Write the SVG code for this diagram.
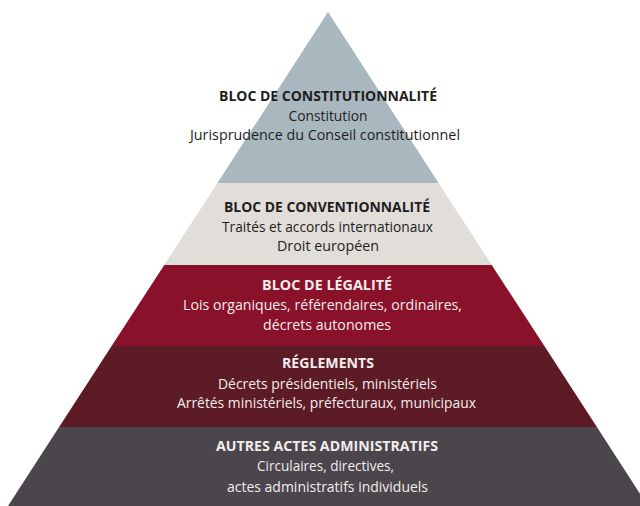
<svg xmlns="http://www.w3.org/2000/svg" width="640" height="506" viewBox="0 0 640 506">
  <style>
    text { font-family: "Open Sans", "Liberation Sans", sans-serif; text-anchor: middle; }
    .t { font-size: 13.5px; font-weight: 700; }
    .s { font-size: 14px; font-weight: 400; }
    .dark { fill: #1e1e1e; }
    .light { fill: #f2eded; }
  </style>
  <rect width="640" height="506" fill="#ffffff"/>
  <g id="constitutionnalite">
    <polygon points="328,12 438.6,183 217.4,183" fill="#a9b7be"/>
    <text class="t dark" x="328" y="101" textLength="218" lengthAdjust="spacingAndGlyphs">BLOC DE CONSTITUTIONNALITÉ</text>
    <text class="s dark" x="328" y="121" textLength="79" lengthAdjust="spacingAndGlyphs">Constitution</text>
    <text class="s dark" x="325" y="140" textLength="270" lengthAdjust="spacingAndGlyphs">Jurisprudence du Conseil constitutionnel</text>
  </g>
  <g id="conventionnalite">
    <polygon points="217.4,183 438.6,183 491.7,265 164.3,265" fill="#e1ddd8"/>
    <text class="t dark" x="327" y="212" textLength="206" lengthAdjust="spacingAndGlyphs">BLOC DE CONVENTIONNALITÉ</text>
    <text class="s dark" x="327.5" y="232" textLength="211" lengthAdjust="spacingAndGlyphs">Traités et accords internationaux</text>
    <text class="s dark" x="328" y="251" textLength="102" lengthAdjust="spacingAndGlyphs">Droit européen</text>
  </g>
  <g id="legalite">
    <polygon points="164.3,265 491.7,265 544.4,346 111.6,346" fill="#891129"/>
    <text class="t light" x="327" y="290" textLength="130" lengthAdjust="spacingAndGlyphs">BLOC DE LÉGALITÉ</text>
    <text class="s light" x="322.5" y="310" textLength="279" lengthAdjust="spacingAndGlyphs">Lois organiques, référendaires, ordinaires,</text>
    <text class="s light" x="327" y="330" textLength="128" lengthAdjust="spacingAndGlyphs">décrets autonomes</text>
  </g>
  <g id="reglements">
    <polygon points="111.6,346 544.4,346 596.9,427 59.1,427" fill="#5d1b25"/>
    <text class="t light" x="328" y="368" textLength="92" lengthAdjust="spacingAndGlyphs">RÉGLEMENTS</text>
    <text class="s light" x="327.5" y="389" textLength="219" lengthAdjust="spacingAndGlyphs">Décrets présidentiels, ministériels</text>
    <text class="s light" x="326.5" y="408" textLength="299" lengthAdjust="spacingAndGlyphs">Arrêtés ministériels, préfecturaux, municipaux</text>
  </g>
  <g id="autres-actes">
    <polygon points="59.1,427 596.9,427 648,506 8,506" fill="#4a464b"/>
    <text class="t light" x="327" y="451" textLength="222" lengthAdjust="spacingAndGlyphs">AUTRES ACTES ADMINISTRATIFS</text>
    <text class="s light" x="325.5" y="471" textLength="137" lengthAdjust="spacingAndGlyphs">Circulaires, directives,</text>
    <text class="s light" x="327.5" y="492" textLength="201" lengthAdjust="spacingAndGlyphs">actes administratifs individuels</text>
  </g>
  <g id="connectors"/>
</svg>
